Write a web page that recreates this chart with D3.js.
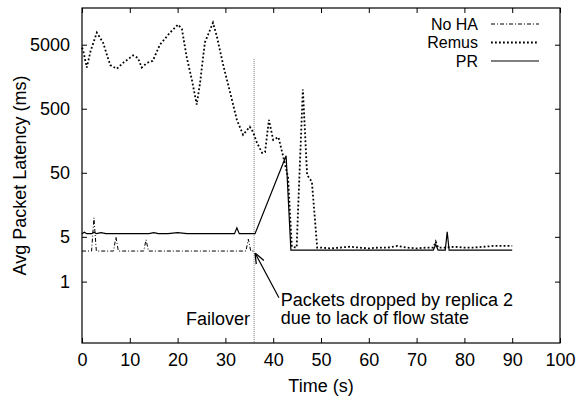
<!DOCTYPE html>
<html>
<head>
<meta charset="utf-8">
<script src="https://cdn.jsdelivr.net/npm/d3@7"></script>
<style>
  body { margin: 0; background: #fff; }
  svg { display: block; }
  text { font-family: "Liberation Sans", Arial, sans-serif; font-size: 18px; fill: #000; }
</style>
</head>
<body>
<div id="chart"></div>
<script>
// ---- data ----
const xTicks = [0, 10, 20, 30, 40, 50, 60, 70, 80, 90, 100];
const yTicks = [1, 5, 50, 500, 5000];
const failoverTime = 36;

const noHaTime  = [0, 1, 2, 2.5, 3, 4, 5, 6, 6.6, 7.1, 7.6, 8, 9, 10, 11, 12, 12.9, 13.4, 13.9, 15, 16, 17, 18, 19, 20, 21, 22, 23, 24, 25, 26, 27, 28, 29, 30, 31, 32, 33, 34.3, 34.8, 35.3, 36];
const noHaValue = [3.0, 3.0, 3.0, 9.9, 3.0, 3.0, 3.0, 3.0, 3.0, 5.0, 3.0, 3.0, 3.0, 3.0, 3.0, 3.0, 3.0, 4.5, 3.0, 3.0, 3.0, 3.0, 3.0, 3.0, 3.0, 3.0, 3.0, 3.0, 3.0, 3.0, 3.0, 3.0, 3.0, 3.0, 3.0, 3.0, 3.0, 3.0, 3.0, 4.6, 3.0, 3.0];

const remusTime  = [0, 0.2, 1, 1.8, 3.1, 4.4, 5.9, 7.3, 8.6, 10.7, 11.7, 12.5, 13.6, 14.8, 16.3, 18.4, 20.1, 20.9, 21.9, 23, 24, 24.7, 25.7, 27.4, 28.2, 29.6, 31, 32.4, 33.7, 35.1, 35.8, 36.6, 37.7, 38.3, 39.1, 40, 41.1, 42.1, 43.1, 43.9, 44.9, 46.2, 47.1, 48.1, 49.2,
                    50, 52, 54, 56, 58, 60, 62, 64, 66, 68, 70, 72, 73.5, 74, 74.5, 76, 78, 80, 82, 84, 86, 88, 90];
const remusValue = [4500, 4200, 2200, 4000, 7700, 5400, 2400, 2100, 2600, 3400, 3100, 2200, 2600, 2800, 5000, 7700, 10300, 8800, 3200, 1400, 580, 1270, 5400, 11000, 6800, 2300, 890, 335, 196, 262, 215, 147, 102, 105, 335, 163, 180, 89, 43, 3.5, 3.4, 1000, 46, 36, 3.4,
                    3.4, 3.3, 3.4, 3.5, 3.4, 3.3, 3.4, 3.4, 3.6, 3.4, 3.3, 3.4, 3.4, 4.2, 3.4, 3.4, 3.5, 3.4, 3.4, 3.5, 3.6, 3.6, 3.6];

const prTime  = [0, 0.5, 1, 2, 2.5, 3, 4, 5, 6, 8, 10, 12, 14, 15, 16, 18, 20, 22, 24, 26, 28, 30, 31.9, 32.4, 32.9, 34, 36.2, 42.7, 43.7,
                 45, 48, 50, 52, 54, 56, 58, 60, 62, 64, 66, 68, 70, 72, 73.5, 74, 74.5, 76, 76.4, 76.8, 78, 80, 82, 84, 86, 88, 90];
const prValue = [5.6, 5.9, 5.6, 5.6, 5.9, 5.6, 5.8, 5.6, 5.6, 5.6, 5.6, 5.6, 5.6, 5.8, 5.6, 5.6, 5.8, 5.6, 5.6, 5.6, 5.6, 5.6, 5.6, 6.9, 5.6, 5.6, 5.6, 92, 3.1,
                 3.1, 3.1, 3.1, 3.1, 3.1, 3.1, 3.1, 3.1, 3.1, 3.1, 3.1, 3.1, 3.1, 3.1, 3.1, 3.8, 3.1, 3.1, 6.0, 3.1, 3.1, 3.1, 3.1, 3.1, 3.1, 3.1, 3.1];

const legendNames = ["No HA", "Remus", "PR"];

// ---- layout ----
const width = 585, height = 400;
const margin = { top: 8, right: 25, bottom: 57, left: 82 };

const svg = d3.select("#chart").append("svg")
    .attr("width", width)
    .attr("height", height);

const xScale = d3.scaleLinear()
    .domain([0, 100])
    .range([margin.left, width - margin.right]);

const yScale = d3.scaleLog()
    .domain([0.11, 18700])
    .range([height - margin.bottom, margin.top]);

const toPoints = (ts, vs) => ts.map((t, i) => ({ t: t, v: vs[i] }));

const line = d3.line()
    .x((d) => xScale(d.t))
    .y((d) => yScale(d.v));

const styles = [
    { dash: "4,2,1,2", width: 1, data: toPoints(noHaTime, noHaValue) },
    { dash: "1.8,2.2", width: 1.8, data: toPoints(remusTime, remusValue) },
    { dash: null, width: 1.2, data: toPoints(prTime, prValue) }
];

// failover marker
svg.append("line")
    .attr("x1", xScale(failoverTime)).attr("x2", xScale(failoverTime))
    .attr("y1", yScale(3000)).attr("y2", yScale.range()[0])
    .attr("stroke", "#777")
    .attr("stroke-width", 1)
    .attr("stroke-dasharray", "1,1");

// series
styles.forEach((s) => {
    svg.append("path")
        .datum(s.data)
        .attr("fill", "none")
        .attr("stroke", "#000")
        .attr("stroke-width", s.width)
        .attr("stroke-dasharray", s.dash)
        .attr("d", line);
});

// axes, ticks inward and mirrored
const tickLen = 5;
svg.append("g")
    .attr("transform", `translate(0,${yScale.range()[0]})`)
    .call(d3.axisBottom(xScale).tickValues(xTicks).tickSize(-tickLen).tickPadding(10))
    .call((g) => g.select(".domain").remove());
svg.append("g")
    .attr("transform", `translate(0,${yScale.range()[1]})`)
    .call(d3.axisTop(xScale).tickValues(xTicks).tickSize(-tickLen).tickFormat(""))
    .call((g) => g.select(".domain").remove());
svg.append("g")
    .attr("transform", `translate(${xScale.range()[0]},0)`)
    .call(d3.axisLeft(yScale).tickValues(yTicks).tickFormat(d3.format("d")).tickSize(-tickLen).tickPadding(12))
    .call((g) => g.select(".domain").remove());
svg.append("g")
    .attr("transform", `translate(${xScale.range()[1]},0)`)
    .call(d3.axisRight(yScale).tickValues(yTicks).tickSize(-tickLen).tickFormat(""))
    .call((g) => g.select(".domain").remove());

svg.selectAll(".tick line").attr("stroke", "#000");
svg.selectAll(".tick text").style("font-size", "18px").style("font-family", "Liberation Sans, Arial, sans-serif");

// plot border
svg.append("rect")
    .attr("x", xScale.range()[0])
    .attr("y", yScale.range()[1])
    .attr("width", xScale.range()[1] - xScale.range()[0])
    .attr("height", yScale.range()[0] - yScale.range()[1])
    .attr("fill", "none")
    .attr("stroke", "#000")
    .attr("stroke-width", 1.2);

// axis titles
svg.append("text")
    .attr("x", (xScale.range()[0] + xScale.range()[1]) / 2)
    .attr("y", 392)
    .attr("text-anchor", "middle")
    .text("Time (s)");
svg.append("text")
    .attr("transform", `translate(26,${(yScale.range()[0] + yScale.range()[1]) / 2}) rotate(-90)`)
    .attr("text-anchor", "middle")
    .text("Avg Packet Latency (ms)");

// annotations
svg.append("text")
    .attr("x", xScale(failoverTime) - 4)
    .attr("y", 325)
    .attr("text-anchor", "end")
    .text("Failover");

svg.append("defs").append("marker")
    .attr("id", "arrow")
    .attr("viewBox", "0 0 10 10")
    .attr("refX", 10).attr("refY", 5)
    .attr("markerWidth", 9).attr("markerHeight", 9)
    .attr("orient", "auto")
    .append("path")
    .attr("d", "M0,1 L10,5 L0,9")
    .attr("fill", "none")
    .attr("stroke", "#000")
    .attr("stroke-width", 1.2);

svg.append("line")
    .attr("x1", xScale(41.2)).attr("y1", yScale(0.56))
    .attr("x2", xScale(36.2)).attr("y2", yScale(2.8))
    .attr("stroke", "#000")
    .attr("stroke-width", 1.2)
    .attr("marker-end", "url(#arrow)");

svg.append("text")
    .attr("x", xScale(41.6))
    .attr("y", 306)
    .text("Packets dropped by replica 2");
svg.append("text")
    .attr("x", xScale(41.6))
    .attr("y", 324)
    .text("due to lack of flow state");

// legend
const legend = svg.append("g");
legendNames.forEach((name, i) => {
    const y = 24 + i * 18.5;
    legend.append("text")
        .attr("x", 478)
        .attr("y", y)
        .attr("dy", "0.35em")
        .attr("text-anchor", "end")
        .style("font-size", "16px")
        .text(name);
    legend.append("line")
        .attr("x1", 491).attr("x2", 539)
        .attr("y1", y).attr("y2", y)
        .attr("stroke", "#000")
        .attr("stroke-width", styles[i].width)
        .attr("stroke-dasharray", styles[i].dash);
});
</script>
</body>
</html>
